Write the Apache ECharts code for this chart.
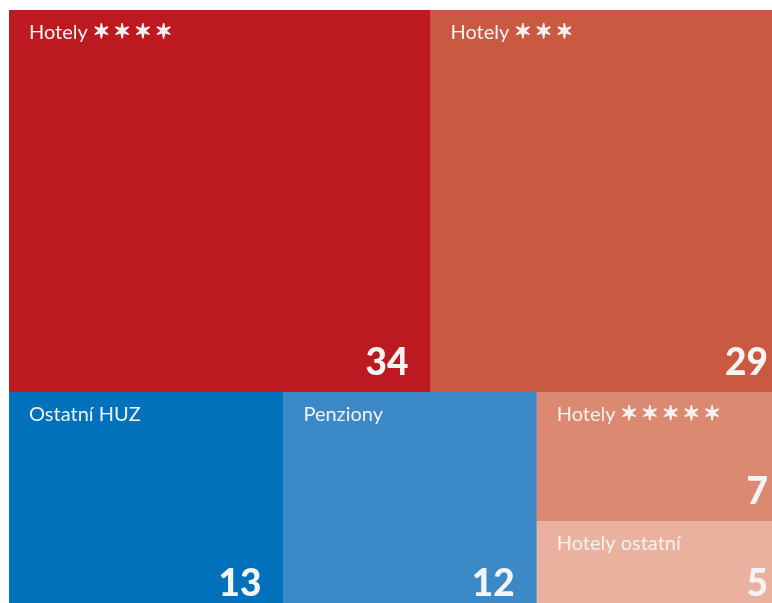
<!DOCTYPE html>
<html>
<head>
<meta charset="utf-8">
<script src="https://cdn.jsdelivr.net/npm/echarts@6/dist/echarts.min.js"></script>
<style>
  html, body { margin: 0; padding: 0; background: #fff; }
  #chart { width: 772px; height: 603px; }
</style>
</head>
<body>
<div id="chart"></div>
<script>
  // horní řada
  const topNames = ['Hotely ✶✶✶✶', 'Hotely ✶✶✶'];
  const topValues = [34, 29];
  // dolní řada
  const bottomNames = ['Ostatní HUZ', 'Penziony', 'Hotely ✶✶✶✶✶', 'Hotely ostatní'];
  const bottomValues = [13, 12, 7, 5];

  const topColors = ['#bc1a20', '#c95a41'];
  const bottomColors = ['#0071ba', '#3c89c8', '#db8970', '#eab29e'];

  const chart = echarts.init(document.getElementById('chart'));

  function makeData(names, values, colors) {
    return names.map((n, i) => {
      const c = colors ? colors[i] : 'rgba(0,0,0,0)';
      return { name: n, value: values[i], itemStyle: { color: c, borderColor: c } };
    });
  }

  // hvězdičky trochu větší a s mezerou
  function nameFormatter(p) {
    return p.name.replace(/(✶+)/, (m) => '{s|' + m.split('').join('\u2009') + '}');
  }

  // dvojice sérií: barevné bloky s názvem + průhledná vrstva s hodnotou
  function makeSeries(names, values, colors, box) {
    const common = {
      type: 'treemap',
      left: box.left,
      top: box.top,
      width: box.width,
      height: box.height,
      roam: false,
      nodeClick: false,
      breadcrumb: { show: false },
      itemStyle: { borderWidth: 0, gapWidth: 0 },
      emphasis: { disabled: true }
    };
    return [
      Object.assign({}, common, {
        data: makeData(names, values, colors),
        label: {
          show: true,
          position: 'insideTopLeft',
          distance: 0,
          padding: [13, 0, 0, 20],
          color: '#f2f2f2',
          fontFamily: 'Lato, "DejaVu Sans"',
          fontSize: 20,
          lineHeight: 20,
          formatter: nameFormatter,
          rich: {
            s: {
              fontFamily: '"DejaVu Sans"',
              fontSize: 20,
              lineHeight: 20,
              color: '#f2f2f2',
              textBorderColor: '#f2f2f2',
              textBorderWidth: 1.3
            }
          }
        }
      }),
      Object.assign({}, common, {
        silent: true,
        data: makeData(names, values, null),
        label: {
          show: true,
          position: 'insideBottomRight',
          distance: 0,
          padding: [0, 22, 10, 0],
          color: '#f4f4f4',
          fontFamily: 'Lato',
          fontWeight: 900,
          fontSize: 37,
          lineHeight: 37,
          formatter: '{c}'
        }
      })
    ];
  }

  const option = {
    animation: false,
    series: [].concat(
      makeSeries(topNames, topValues, topColors, { left: 9, top: 10, width: 781, height: 382 }),
      makeSeries(bottomNames, bottomValues, bottomColors, { left: 9, top: 392, width: 781, height: 221 })
    )
  };
  chart.setOption(option);
</script>
</body>
</html>
